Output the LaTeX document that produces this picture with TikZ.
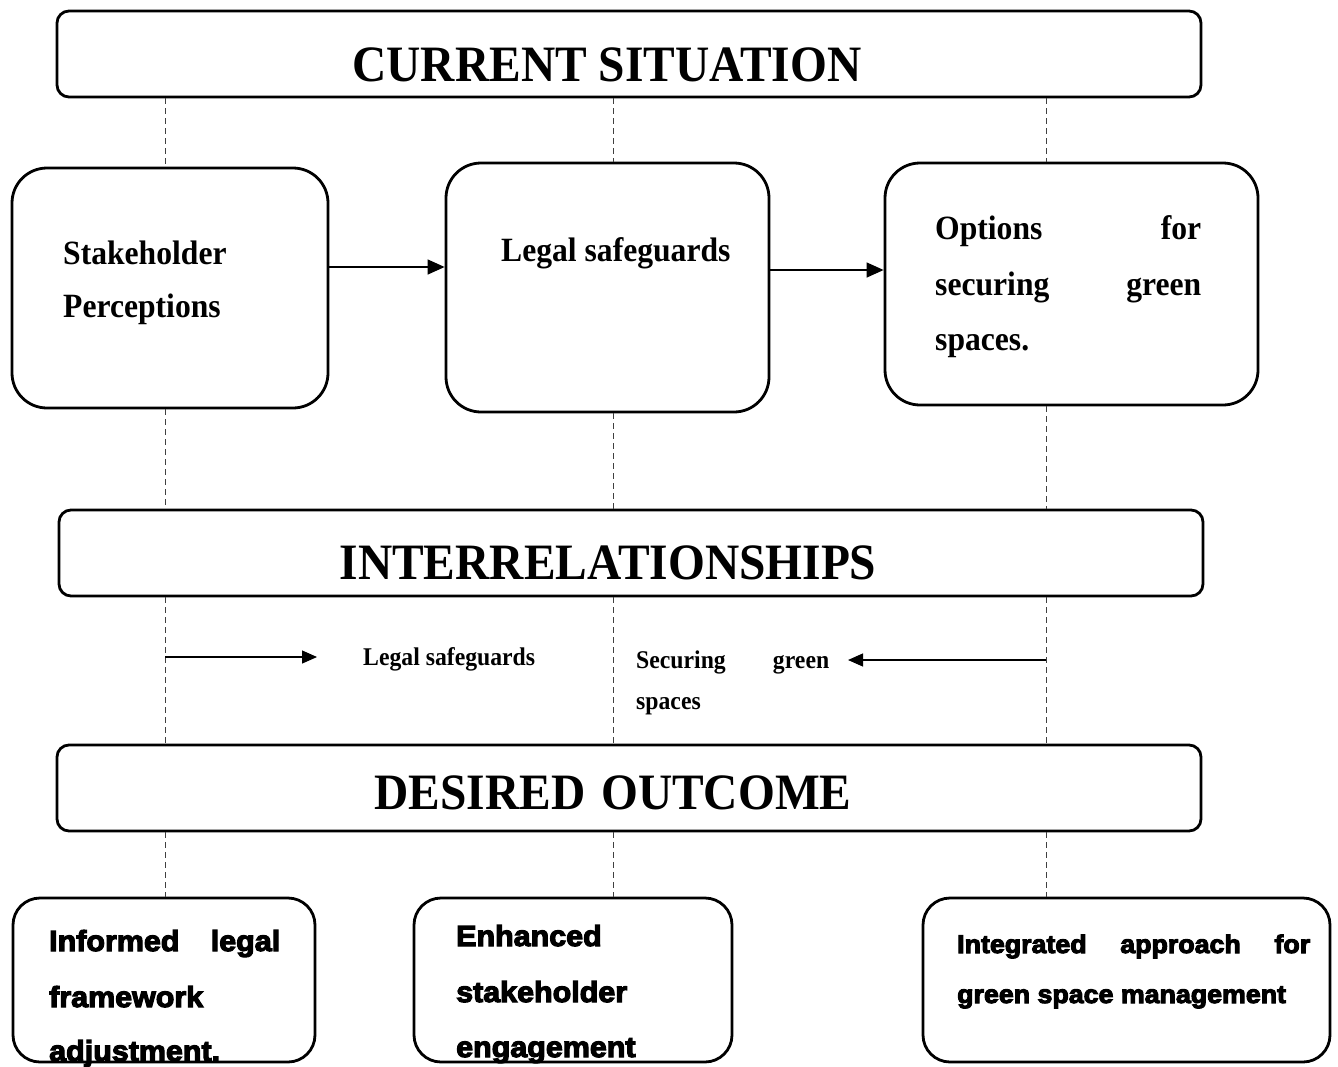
\documentclass[tikz,border=0pt]{standalone}
\usepackage{fontspec}
\setmainfont{Liberation Serif}
\newfontfamily\tfont[FakeStretch=0.93]{Liberation Serif Bold}
\newfontfamily\bfont[FakeStretch=1.05,FakeBold=4]{Liberation Sans Bold}
\usetikzlibrary{arrows.meta}
\tikzset{
  frame/.style={draw, line width=2.8pt, rounded corners=#1, inner sep=0pt, fill=white},
  dline/.style={dash pattern=on 6pt off 4pt, line width=1pt, black!75},
  arr/.style={-{Triangle[length=17pt,width=15pt]}, line width=1.3pt},
  sarr/.style={-{Triangle[length=15pt,width=13pt]}, line width=1.2pt},
  ttl/.style={anchor=base, inner sep=0pt, font=\tfont\fontsize{51}{60}\selectfont},
  mtx/.style={anchor=base west, inner sep=0pt, font=\tfont\fontsize{34}{40}\selectfont},
  itx/.style={anchor=base west, inner sep=0pt, font=\tfont\fontsize{25.5}{30}\selectfont},
  btx/.style={anchor=base west, inner sep=0pt, font=\bfont\fontsize{29}{34}\selectfont},
  ctx/.style={anchor=base west, inner sep=0pt, font=\bfont\fontsize{25.5}{30}\selectfont},
}
\begin{document}
\begin{tikzpicture}[x=1pt,y=-1pt]
\fill[white] (0,0) rectangle (1338,1066);
\useasboundingbox (0,0) rectangle (1338,1066);

% column coordinates
\coordinate (c1) at (165,0);
\coordinate (c2) at (613,0);
\coordinate (c3) at (1046,0);

% boxes
\node[frame=12pt, minimum width=1144pt, minimum height=86pt] (top) at (629,54) {};
\node[frame=35pt, minimum width=316pt, minimum height=240pt] (b1) at (170,288) {};
\node[frame=35pt, minimum width=323pt, minimum height=249pt] (b2) at (607.5,287.5) {};
\node[frame=35pt, minimum width=373pt, minimum height=242pt] (b3) at (1071.5,284) {};
\node[frame=12pt, minimum width=1144pt, minimum height=86pt] (mid) at (631,553) {};
\node[frame=12pt, minimum width=1144pt, minimum height=86pt] (des) at (629,788) {};
\node[frame=27pt, minimum width=302pt, minimum height=164pt] (bA) at (164,980) {};
\node[frame=27pt, minimum width=318pt, minimum height=164pt] (bB) at (573,980) {};
\node[frame=27pt, minimum width=407pt, minimum height=164pt] (bC) at (1126.5,980) {};

% dashed connectors
\draw[dline] (top.south -| c1) -- (b1.north -| c1);
\draw[dline] (top.south -| c2) -- (b2.north -| c2);
\draw[dline] (top.south -| c3) -- (b3.north -| c3);
\draw[dline] (b1.south -| c1) -- (mid.north -| c1);
\draw[dline] (b2.south -| c2) -- (mid.north -| c2);
\draw[dline] (b3.south -| c3) -- (mid.north -| c3);
\draw[dline] (mid.south -| c1) -- (des.north -| c1);
\draw[dline] (mid.south -| c2) -- (des.north -| c2);
\draw[dline] (mid.south -| c3) -- (des.north -| c3);
\draw[dline] (des.south -| c1) -- (bA.north -| c1);
\draw[dline] (des.south -| c2) -- (bB.north -| c2);
\draw[dline] (des.south -| c3) -- (bC.north -| c3);

% titles
\node[ttl] (t1) at (607,81) {CURRENT SITUATION};
\node[ttl] (t2) at (608,579) {INTERRELATIONSHIPS};
\node[ttl] (t3) at (613,809) {DESIRED\hspace{4pt} OUTCOME};

% row boxes text
\node[mtx] (s1) at (63,264) {Stakeholder};
\node[mtx] (s2) at (63,317) {Perceptions};
\node[mtx] (l1) at (501,261) {Legal safeguards};
\node[mtx] (o1) at (935,239) {\hbox to 266pt{Options\hfill for}};
\node[mtx] (o2) at (935,295) {\hbox to 266pt{securing\hfill green}};
\node[mtx] (o3) at (935,350) {spaces.};

% row arrows
\coordinate (r1) at (0,267);
\coordinate (r2) at (0,270);
\draw[arr] (b1.east |- r1) -- (b2.west |- r1);
\draw[arr] (b2.east |- r2) -- (b3.west |- r2);

% interrelationships
\coordinate (ia) at (317,657);
\coordinate (ib) at (848,660);
\draw[sarr] (c1 |- ia) -- (ia);
\draw[sarr] (c3 |- ib) -- (ib);
\node[itx] (i1) at (363,665) {Legal safeguards};
\node[itx] (i2) at (636,668) {\hbox to 193pt{Securing\hfill green}};
\node[itx] (i3) at (636,709) {spaces};

% outcome texts
\node[btx] (a1) at (49,951) {\hbox to 231pt{Informed\hfill legal}};
\node[btx] (a2) at (49,1007) {framework};
\node[btx] (a3) at (49,1061) {adjustment.};
\node[btx] (e1) at (456,946) {Enhanced};
\node[btx] (e2) at (456,1002) {stakeholder};
\node[btx] (e3) at (456,1057) {engagement};
\node[ctx] (g1) at (957,953) {\hbox to 353pt{Integrated\hfill approach\hfill for}};
\node[ctx] (g2) at (957,1003) {green space management};
\end{tikzpicture}
\end{document}
